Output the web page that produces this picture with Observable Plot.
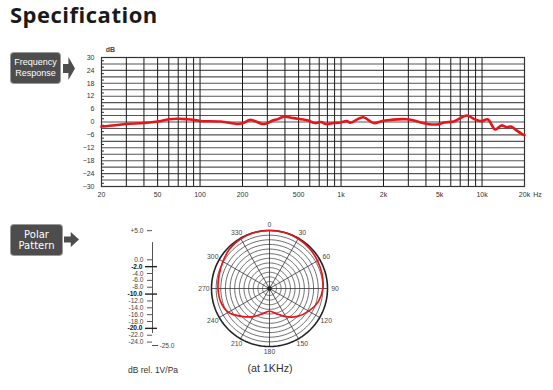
<!DOCTYPE html>
<html>
<head>
<meta charset="utf-8">
<script src="https://cdn.jsdelivr.net/npm/d3@7"></script>
<script src="https://cdn.jsdelivr.net/npm/@observablehq/plot@0.6"></script>
<style>
  html, body { margin: 0; padding: 0; background: #fff; }
  #root { position: relative; width: 553px; height: 390px; overflow: hidden; background: #fff; font-family: "Liberation Sans", Arial, sans-serif; }
  .abs { position: absolute; }
  .title { left: 10px; top: 0px; font-family: "Open Sans", sans-serif; font-weight: 700; font-size: 22px; letter-spacing: 0.5px; color: #1a1a1a; line-height: 28px; }
  .tag { background: #4d4d4d; color: #fff; border-radius: 3px; box-shadow: 0 0 0 1px #9a9a9a; text-align: center; display: flex; flex-direction: column; justify-content: center; }
  .arrow { background: #4d4d4d; clip-path: polygon(0 30%, 45% 30%, 45% 0, 100% 50%, 45% 100%, 45% 70%, 0 70%); }
</style>
</head>
<body>
<div id="root"></div>
<script>
// ---------- Data ----------
// Frequency response (Hz, dB)
const freqHz = [20, 25, 30, 40, 50, 60, 70, 80, 90, 100, 140, 183, 200, 228, 276, 300, 324, 355, 392, 462, 575, 656, 719, 775, 887, 990, 1100, 1160, 1440, 1700, 2000, 2900, 3280, 4100, 4880, 5400, 6300, 7800, 9000, 9900, 11000, 12400, 13700, 15000, 16100, 17300, 19700, 20000];
const respDb = [-2.1, -1.5, -0.9, -0.5, 0.2, 1.3, 1.5, 1.3, 1.0, 0.5, 0.2, -0.9, -0.6, 1.0, -0.9, -0.6, 0.6, 1.3, 2.5, 1.8, 0.8, -0.5, 0.0, -0.9, -0.5, -0.2, 0.4, -0.3, 2.2, -0.5, 0.6, 1.3, 0.7, -0.9, -1.1, -0.2, 0.2, 3.0, 1.0, 0.4, 1.2, -3.5, -1.6, -2.4, -2.1, -3.6, -6.0, -6.1];

// Frequency axis
const freqGrid = [30, 40, 50, 60, 70, 80, 90, 100, 200, 300, 400, 500, 600, 700, 800, 900, 1000, 2000, 3000, 4000, 5000, 6000, 7000, 8000, 9000, 10000];
const freqTicks = [20, 50, 100, 200, 500, 1000, 2000, 5000, 10000, 20000];
const freqTickLabels = ["20", "50", "100", "200", "500", "1k", "2k", "5k", "10k", "20k"];
const dbGrid = [-27, -24, -21, -18, -15, -12, -9, -6, -3, 0, 3, 6, 9, 12, 15, 18, 21, 24, 27];
const dbTicks = [30, 24, 18, 12, 6, 0, -6, -12, -18, -24, -30];
const dbMinor = [28.5, 25.5, 22.5, 19.5, 16.5, 13.5, 10.5, 7.5, 4.5, 1.5, -1.5, -4.5, -7.5, -10.5, -13.5, -16.5, -19.5, -22.5, -25.5, -28.5];

// Polar pattern (degrees, dB)
const polarAngles = [0, 15, 30, 45, 60, 75, 90, 105, 120, 135, 150, 165, 180, 195, 210, 225, 240, 255, 270, 285, 300, 315, 330, 345];
const polarDb = [0, 0, -0.25, -0.6, -1.1, -1.5, -2.0, -3.2, -5.5, -8.0, -11.0, -13.8, -15.2, -13.8, -11.0, -8.0, -4.5, -3.2, -2.8, -2.5, -1.8, -0.8, -0.25, 0];
const polarRings = [0, -2, -4, -6, -8, -10, -12, -14, -16, -18, -20, -22, -24];
const polarSpokes = [0, 30, 60, 90, 120, 150, 180, 210, 240, 270, 300, 330];
const polarMin = -25;

// Level scale
const levelTop = [5];
const levelNormal = [0, -4, -6, -8, -12, -14, -16, -18, -22, -24];
const levelBold = [-2, -10, -20];
const levelEnd = [-25];

// ---------- Layout ----------
const root = document.getElementById("root");
function el(cls, style, html) {
  const d = document.createElement("div");
  d.className = "abs " + cls;
  Object.assign(d.style, style);
  if (html != null) d.innerHTML = html;
  root.appendChild(d);
  return d;
}
el("title", {}, "Specification");
el("tag", {left: "11px", top: "53px", width: "49px", height: "30px", fontSize: "9px", lineHeight: "11px"}, "<div>Frequency</div><div>Response</div>");
el("arrow", {left: "63px", top: "57px", width: "12px", height: "23px"});
el("tag", {left: "11px", top: "225px", width: "51px", height: "30px", fontSize: "10px", lineHeight: "11.5px", fontFamily: "'DejaVu Sans', sans-serif"}, "<div>Polar</div><div>Pattern</div>");
el("arrow", {left: "64px", top: "232px", width: "15px", height: "15px"});

// ---------- Frequency response chart ----------
const freqData = freqHz.map((f, i) => ({f, db: respDb[i]}));
const freqPlot = Plot.plot({
  width: 553, height: 210,
  marginLeft: 101, marginRight: 29, marginTop: 57, marginBottom: 24,
  x: {type: "log", domain: [20, 20000], axis: null},
  y: {domain: [-30, 30]},
  style: {fontFamily: "'Liberation Sans', Arial, sans-serif", fontSize: "7px", color: "#333", background: "transparent"},
  marks: [
    Plot.ruleY(dbGrid, {stroke: "#555", strokeWidth: 1.1}),
    Plot.ruleX(freqGrid, {stroke: "#1a1a1a", strokeWidth: 1}),
    Plot.frame({stroke: "#333", strokeWidth: 1.2}),
    Plot.axisY({ticks: dbMinor, tickSize: 3, dx: 3, tickFormat: () => "", stroke: "#333", label: null}),
    Plot.axisY({ticks: dbTicks, tickSize: 0, tickPadding: 7, label: null}),
    Plot.text(freqTicks, {x: d => d, frameAnchor: "bottom", dy: 10, text: (d, i) => freqTickLabels[i], fill: "#333"}),
    Plot.text(["dB"], {frameAnchor: "top-left", dx: 9, dy: -10, text: d => d, fontWeight: "bold", fill: "#444", textAnchor: "middle"}),
    Plot.text(["Hz"], {x: () => 20000, frameAnchor: "bottom", dy: 10, dx: 13, text: d => d, fill: "#333"}),
    Plot.line(freqData, {x: "f", y: "db", stroke: "#e8141b", strokeWidth: 2.6, curve: "catmull-rom"})
  ]
});
freqPlot.style.position = "absolute";
freqPlot.style.left = "0px";
freqPlot.style.top = "0px";
root.appendChild(freqPlot);

// ---------- Level scale ----------
const fmtL = d => (d > 0 ? "+" : "") + d.toFixed(1);
const levelPlot = Plot.plot({
  width: 90, height: 135,
  marginLeft: 52, marginRight: 0, marginTop: 10, marginBottom: 10,
  x: {domain: [0, 1], axis: null},
  y: {domain: [-25, 0], range: [125, 39.3], axis: null},
  style: {fontFamily: "'Liberation Sans', Arial, sans-serif", fontSize: "6.6px", color: "#444", background: "transparent", overflow: "visible"},
  marks: [
    Plot.ruleX([0], {y1: -25, y2: 5, insetTop: -12, stroke: "#555", strokeWidth: 1}),
    Plot.axisY({ticks: levelTop, tickSize: 5, dy: -12, tickPadding: 4, tickFormat: fmtL, stroke: "#555", fill: "#444", label: null}),
    Plot.axisY({ticks: levelNormal, tickSize: 5, tickPadding: 4, tickFormat: fmtL, stroke: "#555", fill: "#444", label: null}),
    Plot.axisY({ticks: levelBold, tickSize: 12, dx: 5, tickFormat: () => "", stroke: "#222", strokeWidth: 1.4, label: null}),
    Plot.axisY({ticks: levelBold, tickSize: 0, tickPadding: 10, tickFormat: fmtL, fill: "#111", fontWeight: "bold", label: null}),
    Plot.axisY({ticks: levelEnd, tickSize: 6, dx: 6, tickFormat: () => "", stroke: "#555", label: null}),
    Plot.text(levelEnd, {y: d => d, frameAnchor: "left", dx: 7, textAnchor: "start", text: fmtL, fill: "#444"})
  ]
});
levelPlot.style.position = "absolute";
levelPlot.style.left = "100px";
levelPlot.style.top = "220px";
root.appendChild(levelPlot);
el("", {left: "110px", top: "365px", width: "86px", textAlign: "center", fontSize: "8.5px", color: "#333"}, "dB rel. 1V/Pa");

// ---------- Polar chart ----------
const frac = db => (db - polarMin) / (0 - polarMin);
const rad = a => a * Math.PI / 180;
const ringPts = [];
polarRings.forEach(r => {
  for (let a = 0; a <= 360; a += 2) ringPts.push({ring: r, x: frac(r) * Math.sin(rad(a)), y: frac(r) * Math.cos(rad(a))});
});
const polarPts = polarAngles.map((a, i) => ({x: frac(polarDb[i]) * Math.sin(rad(a)), y: frac(polarDb[i]) * Math.cos(rad(a))}));
const R = 58;
const polarPlot = Plot.plot({
  width: 140, height: 144,
  marginLeft: 0, marginRight: 0, marginTop: 0, marginBottom: 0,
  x: {domain: [-1, 1], range: [70 - R, 70 + R], axis: null},
  y: {domain: [-1, 1], range: [72 + R, 72 - R], axis: null},
  style: {fontFamily: "'Liberation Sans', Arial, sans-serif", fontSize: "6.8px", color: "#444", background: "transparent", overflow: "visible"},
  marks: [
    Plot.line(ringPts.filter(d => d.ring !== 0), {x: "x", y: "y", z: "ring", stroke: "#444", strokeWidth: 0.8}),
    Plot.link(polarSpokes, {x1: () => 0, y1: () => 0, x2: a => Math.sin(rad(a)), y2: a => Math.cos(rad(a)), stroke: "#333", strokeWidth: 0.8}),
    Plot.line(ringPts.filter(d => d.ring === 0), {x: "x", y: "y", stroke: "#222", strokeWidth: 1.6}),
    Plot.dot([0], {x: () => 0, y: () => 0, r: 2, fill: "#222"}),
    Plot.line(polarPts, {x: "x", y: "y", stroke: "#e8141b", strokeWidth: 1.7, curve: "catmull-rom-closed"}),
    Plot.text(polarSpokes, {x: a => 1.13 * Math.sin(rad(a)), y: a => 1.1 * Math.cos(rad(a)), text: a => String(a), fill: "#444"})
  ]
});
polarPlot.style.position = "absolute";
polarPlot.style.left = "199px";
polarPlot.style.top = "216px";
root.appendChild(polarPlot);
el("", {left: "220px", top: "362px", width: "100px", textAlign: "center", fontSize: "10.7px", color: "#333"}, "(at 1KHz)");
</script>
</body>
</html>
